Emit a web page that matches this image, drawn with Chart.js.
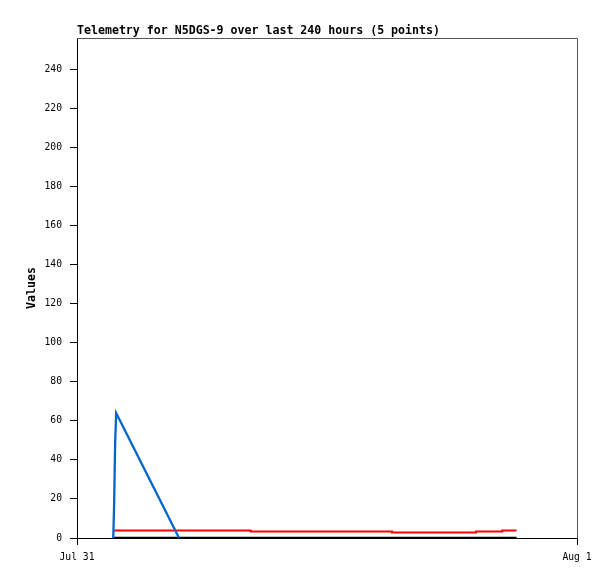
<!DOCTYPE html>
<html>
<head>
<meta charset="utf-8">
<script src="https://cdn.jsdelivr.net/npm/chart.js@4/dist/chart.umd.min.js"></script>
<style>
  body { margin: 0; background: #fff; }
  canvas { display: block; }
</style>
</head>
<body>
<canvas id="telemetry" width="615" height="579"></canvas>
<script>
// hours since Jul 31 00:00
var blueHours = [1.74, 1.78, 1.83, 1.88, 4.9];
var blueValues = [0, 16, 48, 64, 0];

var redHours = [1.78, 8.34, 15.12, 19.15, 20.41, 21.1];
var redValues = [3.8, 3.3, 2.8, 3.3, 3.8, 3.8];

var blackHours = [1.78, 21.1];
var blackValues = [0, 0];

var yTicks = [0, 20, 40, 60, 80, 100, 120, 140, 160, 180, 200, 220, 240];
var xTickHours = [0, 24];
var xTickLabels = ['Jul 31', 'Aug 1'];

function pts(xs, ys) {
  return xs.map(function(x, i) { return { x: x, y: ys[i] }; });
}

var mono = 'DejaVu Sans Mono';

// grey top/right frame
const frame = {
  id: 'frame',
  afterDraw(chart) {
    const { ctx, chartArea: { top, bottom, left, right } } = chart;
    ctx.save();
    ctx.strokeStyle = '#555';
    ctx.lineWidth = 1;
    ctx.beginPath();
    ctx.moveTo(left, top + 0.5);
    ctx.lineTo(right + 0.5, top + 0.5);
    ctx.lineTo(right + 0.5, bottom);
    ctx.stroke();
    ctx.restore();
  }
};

var ctx = document.getElementById('telemetry').getContext('2d');
var chart = new Chart(ctx, {
  type: 'line',
  data: {
    datasets: [{
      data: pts(blueHours, blueValues),
      borderColor: '#0066cc',
      borderWidth: 2.3,
      pointRadius: 0,
      tension: 0
    }, {
      data: pts(redHours, redValues),
      borderColor: '#ff0000',
      borderWidth: 2,
      pointRadius: 0,
      stepped: true
    }, {
      data: pts(blackHours, blackValues),
      borderColor: '#000000',
      borderWidth: 2.5,
      pointRadius: 0
    }]
  },
  options: {
    responsive: false,
    animation: false,
    layout: { padding: { left: 0, right: 38, top: 0, bottom: 0 } },
    plugins: {
      legend: { display: false },
      tooltip: { enabled: false },
      title: {
        display: true,
        text: 'Telemetry for N5DGS-9 over last 240 hours (5 points)',
        align: 'start',
        fullSize: false,
        color: '#000',
        font: { family: mono, size: 11.6, weight: 'bold', lineHeight: 1 },
        padding: { top: 25.6, bottom: 0.8 }
      }
    },
    scales: {
      x: {
        type: 'linear',
        min: 0,
        max: 24,
        afterBuildTicks: function(axis) {
          axis.ticks = xTickHours.map(function(v) { return { value: v }; });
        },
        afterFit: function(axis) { axis.height = 41; },
        ticks: {
          autoSkip: false,
          maxRotation: 0,
          padding: 7,
          color: '#000',
          font: { family: mono, size: 9.7 },
          callback: function(value) {
            var i = xTickHours.indexOf(value);
            return i >= 0 ? xTickLabels[i] : '';
          }
        },
        grid: { drawOnChartArea: false, tickLength: 7, color: '#000' },
        border: { color: '#000' }
      },
      y: {
        min: 0,
        max: 256,
        afterBuildTicks: function(axis) {
          axis.ticks = yTicks.map(function(v) { return { value: v }; });
        },
        afterFit: function(axis) { axis.width = 77; },
        ticks: {
          padding: 8,
          color: '#000',
          font: { family: mono, size: 9.7 }
        },
        grid: { drawOnChartArea: false, tickLength: 7, color: '#000' },
        border: { color: '#000' },
        title: {
          display: true,
          text: 'Values',
          color: '#000',
          font: { family: mono, size: 11.6, weight: 'bold' },
          padding: { top: 25.5, bottom: 0 }
        }
      }
    }
  },
  plugins: [frame]
});
</script>
</body>
</html>
